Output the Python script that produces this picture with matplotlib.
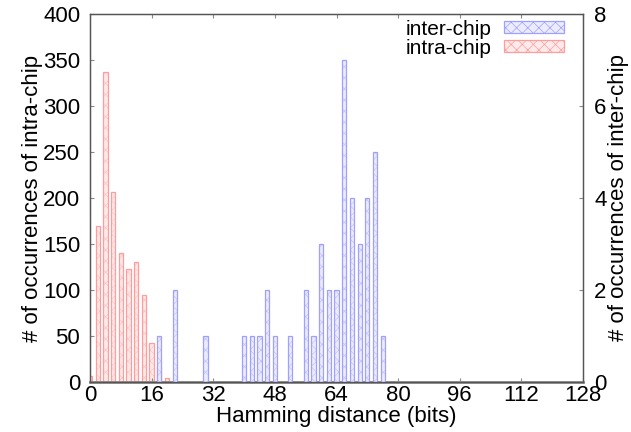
import numpy as np
import matplotlib.pyplot as plt
from matplotlib.patches import Patch

plt.rcParams['font.family'] = ['Liberation Sans', 'DejaVu Sans']
plt.rcParams['hatch.linewidth'] = 0.5

# intra-chip distribution (left axis)
intra_x = [0, 2, 4, 6, 8, 10, 12, 14, 16, 18, 20]
intra_y = [6, 170, 337, 207, 140, 123, 130, 95, 42, 17, 4]

# inter-chip distribution (right axis)
inter_x = [18, 22, 30, 40, 42, 44, 46, 48, 52, 56, 58, 60, 62, 64, 66, 68, 70, 72, 74, 76]
inter_y = [1, 2, 1, 1, 1, 1, 2, 1, 1, 2, 1, 3, 2, 2, 7, 4, 3, 4, 5, 1]

x_ticks = [0, 16, 32, 48, 64, 80, 96, 112, 128]

fig = plt.figure(figsize=(6.31, 4.32), dpi=100)
ax = fig.add_axes([0.1426, 0.1157, 0.7814, 0.852])
ax2 = ax.twinx()

red_edge = '#ff9d9d'
blue_edge = '#a0a0ff'
# hatched fill first (light pattern), then the outline on top
ax.bar(intra_x, intra_y, width=1.1, facecolor='#ffeaea', edgecolor='#ffc4c4',
       hatch='xxx', linewidth=0)
ax.bar(intra_x, intra_y, width=1.1, facecolor='none', edgecolor=red_edge,
       linewidth=0.9)
ax2.bar(inter_x, inter_y, width=1.1, facecolor='#ececff', edgecolor='#c4c4ff',
        hatch='xxx', linewidth=0)
ax2.bar(inter_x, inter_y, width=1.1, facecolor='none', edgecolor=blue_edge,
        linewidth=0.9)

ax.set_xlim(0, 128)
ax.set_ylim(0, 400)
ax2.set_ylim(0, 8)
ax.set_xticks(x_ticks)
ax.set_yticks(np.arange(0, 401, 50))
ax2.set_yticks([0, 2, 4, 6, 8])

fs = 16
ax.tick_params(direction='in', labelsize=fs, top=True, length=3, color='#888888')
ax.tick_params(axis='x', pad=2)
ax.tick_params(axis='y', pad=7)
ax2.tick_params(direction='in', labelsize=fs, length=3, color='#888888', pad=8)
ax.set_xlabel('Hamming distance (bits)', fontsize=fs, labelpad=0)
ax.set_ylabel('# of occurrences of intra-chip', fontsize=fs, labelpad=0)
ax2.set_ylabel('# of occurrences of inter-chip', fontsize=fs, labelpad=1)

for a in (ax, ax2):
    for s in a.spines.values():
        s.set_color('#555555')
        s.set_linewidth(0.9)
ax.spines['bottom'].set_color('#888888')
ax.spines['bottom'].set_linewidth(2)

h_inter = Patch(facecolor='#ececff', edgecolor=blue_edge, hatch='xxx', linewidth=0.9)
h_intra = Patch(facecolor='#ffeaea', edgecolor=red_edge, hatch='xxx', linewidth=0.9)
ax2.legend([h_inter, h_intra], ['inter-chip', 'intra-chip'], loc='upper right',
           bbox_to_anchor=(1.0, 1.035), frameon=False, markerfirst=False,
           fontsize=15, handlelength=2.9, handleheight=0.5,
           labelspacing=0.0, handletextpad=0.6)

fig.savefig('out.png', dpi=100)
